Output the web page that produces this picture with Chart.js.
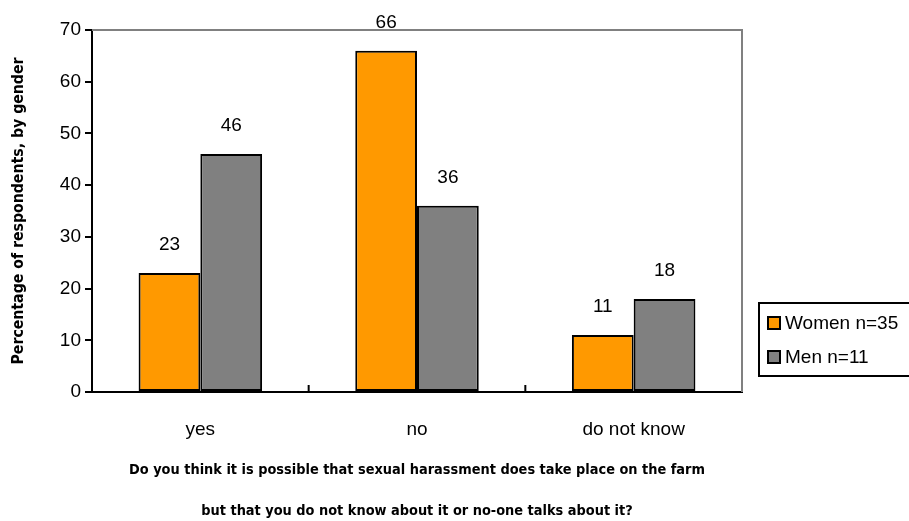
<!DOCTYPE html>
<html>
<head>
<meta charset="utf-8">
<script src="https://cdn.jsdelivr.net/npm/chart.js@4"></script>
<style>
  html, body { margin: 0; padding: 0; background: #fff; }
  #wrap { width: 909px; height: 521px; }
</style>
</head>
<body>
<div id="wrap"><canvas id="harassment-chart" width="909" height="521"></canvas></div>
<script>
// answers to the question, percent of respondents per gender
const categories = ["yes", "no", "do not know"];
const women = [23, 66, 11];
const men = [46, 36, 18];
const seriesLabels = ["Women n=35", "Men n=11"];
const yTicks = [0, 10, 20, 30, 40, 50, 60, 70];

const tickFont = { family: "'Liberation Sans', Arial, sans-serif", size: 19 };
const boldFont = "'Liberation Sans Narrow', 'DejaVu Sans Condensed', Arial, sans-serif";

// values above the bars, plus the grey frame, inside x ticks and the boxed legend
const extras = {
  id: "extras",
  afterDatasetsDraw(chart) {
    const ctx = chart.ctx;
    const area = chart.chartArea;
    ctx.save();

    // grey top and right frame
    ctx.strokeStyle = "#808080";
    ctx.lineWidth = 2;
    ctx.beginPath();
    ctx.moveTo(area.left, area.top);
    ctx.lineTo(area.right, area.top);
    ctx.lineTo(area.right, area.bottom);
    ctx.stroke();

    // ticks between categories, pointing up
    const xScale = chart.scales.x;
    ctx.strokeStyle = "#000";
    ctx.lineWidth = 2;
    for (let i = 1; i < categories.length; i++) {
      const x = (xScale.getPixelForValue(i - 1) + xScale.getPixelForValue(i)) / 2;
      ctx.beginPath();
      ctx.moveTo(x, area.bottom);
      ctx.lineTo(x, area.bottom - 7);
      ctx.stroke();
    }

    // value labels
    ctx.fillStyle = "#000";
    ctx.font = "19px " + tickFont.family;
    ctx.textAlign = "center";
    ctx.textBaseline = "middle";
    chart.data.datasets.forEach((ds, di) => {
      chart.getDatasetMeta(di).data.forEach((bar, i) => {
        ctx.fillText(String(ds.data[i]), bar.x, bar.y - 28);
      });
    });

    // legend box
    const lx = 759, ly = 303, lw = 160, lh = 73;
    ctx.fillStyle = "#fff";
    ctx.fillRect(lx, ly, lw, lh);
    ctx.strokeStyle = "#000";
    ctx.lineWidth = 2;
    ctx.strokeRect(lx, ly, lw, lh);
    ctx.textAlign = "left";
    chart.data.datasets.forEach((ds, di) => {
      const cy = ly + 20 + di * 34;
      ctx.fillStyle = ds.backgroundColor;
      ctx.fillRect(lx + 9, cy - 6, 12, 12);
      ctx.strokeStyle = "#000";
      ctx.lineWidth = 2;
      ctx.strokeRect(lx + 9, cy - 6, 12, 12);
      ctx.fillStyle = "#000";
      ctx.font = "19px " + tickFont.family;
      ctx.fillText(ds.label, lx + 26, cy + 1);
    });

    ctx.restore();
  }
};

const ctx = document.getElementById("harassment-chart").getContext("2d");

const chart = new Chart(ctx, {
  type: "bar",
  data: {
    labels: categories,
    datasets: [
      {
        label: seriesLabels[0],
        data: women,
        backgroundColor: "#FF9900",
        borderColor: "#000",
        borderWidth: 2,
        borderSkipped: false,
        categoryPercentage: 0.57,
        barPercentage: 1.0
      },
      {
        label: seriesLabels[1],
        data: men,
        backgroundColor: "#808080",
        borderColor: "#000",
        borderWidth: 2,
        borderSkipped: false,
        categoryPercentage: 0.57,
        barPercentage: 1.0
      }
    ]
  },
  plugins: [extras],
  options: {
    responsive: false,
    animation: false,
    layout: { padding: { top: 30, right: 167, left: 10, bottom: 0 } },
    plugins: {
      legend: { display: false },
      tooltip: { enabled: false }
    },
    scales: {
      x: {
        grid: { display: false },
        border: { color: "#000", width: 2 },
        ticks: { color: "#000", font: tickFont, padding: 18 },
        title: {
          display: true,
          text: [
            "Do you think it is possible that sexual harassment does take place on the farm",
            "but that you do not know about it or no-one talks about it?"
          ],
          color: "#000",
          font: { family: boldFont, size: 14.4, weight: "bold", lineHeight: 2.85 },
          padding: { top: 16, bottom: -11 }
        },
        afterFit(scale) { scale.height = 129; }
      },
      y: {
        min: 0,
        max: 70,
        afterBuildTicks(scale) { scale.ticks = yTicks.map(v => ({ value: v })); },
        grid: { drawOnChartArea: false, drawTicks: true, tickLength: 7, color: "#000", lineWidth: 2 },
        border: { color: "#000", width: 2 },
        ticks: { color: "#000", font: tickFont, padding: 4 },
        title: {
          display: true,
          text: "Percentage of respondents, by gender",
          color: "#000",
          font: { family: boldFont, size: 15.7, weight: "bold" },
          padding: { top: 0, bottom: 6 }
        },
        afterFit(scale) { scale.width = 82; }
      }
    }
  }
});
</script>
</body>
</html>
